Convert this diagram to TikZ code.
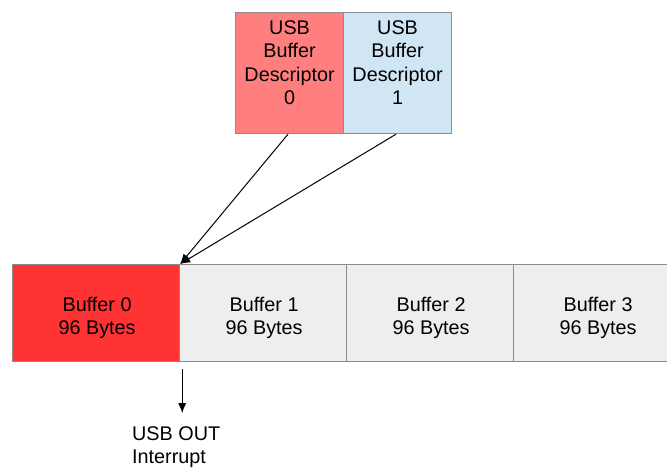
\documentclass[tikz,border=0pt]{standalone}
\usepackage{fontspec}
\setmainfont{Liberation Sans}
\usetikzlibrary{arrows.meta,calc}
\definecolor{descA}{HTML}{FF7F7F}
\definecolor{descB}{HTML}{D0E6F4}
\definecolor{bufRed}{HTML}{FF3333}
\definecolor{bufGray}{HTML}{EEEEEE}
\definecolor{edge}{HTML}{8C8C8C}
\tikzset{
  box/.style={draw=edge, line width=1.2pt, inner sep=0pt, anchor=north west},
  desc/.style={box, minimum width=108pt, minimum height=121pt},
  buf/.style={box, minimum width=167pt, minimum height=97pt},
  lbl/.style={font=\fontsize{19.8}{23.5}\selectfont, align=center},
  conn/.style={-{Latex[length=10pt,width=8pt]}, line width=1pt, black}
}
\begin{document}
\begin{tikzpicture}[x=1pt,y=-1pt]
\useasboundingbox (0,0) rectangle (667,469);
\node[desc, fill=descA] (d0) at (235,12) {};
\node[desc, fill=descB] (d1) at (343,12) {};
\node[lbl, anchor=north] (t0) at ($(d0.north)+(0,5)$) {USB\\Buffer\\Descriptor\\0};
\node[lbl, anchor=north] (t1) at ($(d1.north)+(0,5)$) {USB\\Buffer\\Descriptor\\1};
\node[buf, fill=bufRed] (b0) at (12,264) {};
\node[buf, fill=bufGray] (b1) at (179,264) {};
\node[buf, fill=bufGray] (b2) at (346,264) {};
\node[buf, fill=bufGray] (b3) at (513,264) {};
\node[lbl] at ($(b0.center)+(1,5)$) {Buffer 0\\96 Bytes};
\node[lbl] at ($(b1.center)+(1,5)$) {Buffer 1\\96 Bytes};
\node[lbl] at ($(b2.center)+(1,5)$) {Buffer 2\\96 Bytes};
\node[lbl] at ($(b3.center)+(1,5)$) {Buffer 3\\96 Bytes};
\coordinate (a0) at ($(d0.south west)+(53,0)$);
\coordinate (a1) at ($(d1.south west)+(53,0)$);
\draw[conn] (a0) -- (b0.north east);
\draw[conn] (a1) -- (b0.north east);
\coordinate (s) at ($(b0.south east)+(2,7)$);
\coordinate (e) at ($(b0.south east)+(2,51)$);
\draw[conn] (s) -- (e);
\node[lbl, align=left, anchor=north west, inner sep=0pt] (irq) at (132,426) {USB OUT\\Interrupt};
\end{tikzpicture}
\end{document}
